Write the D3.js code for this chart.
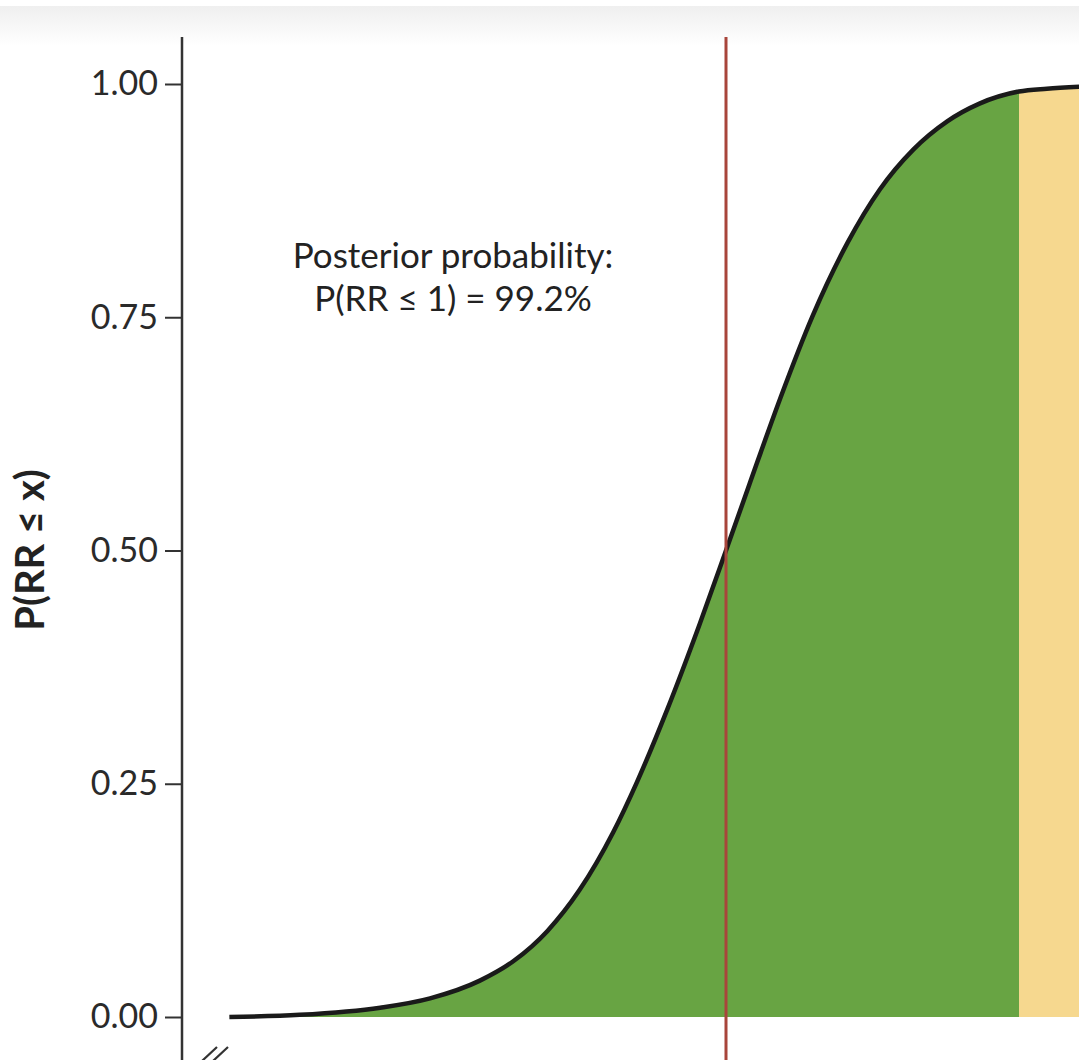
<!DOCTYPE html>
<html>
<head>
<meta charset="utf-8">
<script src="https://cdn.jsdelivr.net/npm/d3@7"></script>
<style>
  body { margin: 0; background: #fff; }
  svg { display: block; }
</style>
</head>
<body>
<svg id="chart"></svg>
<script>
// relative risk values along the curve and the posterior CDF
const rrValues  = [0.461, 0.509, 0.564, 0.598, 0.632, 0.655, 0.678, 0.700, 0.723, 0.739, 0.760, 0.782, 0.800, 0.816, 0.837, 0.859, 0.883, 0.905, 0.928, 0.951, 0.973, 1.000, 1.019, 1.041]
const cdfValues = [0.000, 0.0023, 0.010, 0.020, 0.039, 0.060, 0.092, 0.136, 0.198, 0.251, 0.330, 0.421, 0.500, 0.571, 0.663, 0.751, 0.830, 0.887, 0.930, 0.960, 0.979, 0.992, 0.995, 0.997]
const yTicks = [0, 0.25, 0.5, 0.75, 1]
const medianRR = 0.8
const thresholdRR = 1.0
const noteLines = ['Posterior probability:', 'P(RR \u2264 1) = 99.2%']
const yTitle = 'P(RR \u2264 x)'

const width = 1079
const height = 1060
const axisX = 182
const axisTop = 37

const svg = d3.select('#chart').attr('width', width).attr('height', height)

// soft grey band at the very top
const defs = svg.append('defs')
const grad = defs.append('linearGradient').attr('id', 'topband').attr('x1', 0).attr('x2', 0).attr('y1', 0).attr('y2', 1)
grad.append('stop').attr('offset', '0%').attr('stop-color', '#efefef')
grad.append('stop').attr('offset', '100%').attr('stop-color', '#ffffff')
svg.append('rect').attr('x', 0).attr('y', 6).attr('width', width).attr('height', 40).attr('fill', 'url(#topband)')

const xScale = d3.scaleLinear().domain([0.8, 1.0]).range([726, 1019])
const yScale = d3.scaleLinear().domain([0, 1]).range([1017, 84])

const points = rrValues.map((rr, i) => ({rr: rr, p: cdfValues[i]}))
const below = points.filter(d => d.rr <= thresholdRR)
const above = points.filter(d => d.rr >= thresholdRR)

const area = d3.area()
    .x(d => xScale(d.rr))
    .y0(yScale(0))
    .y1(d => yScale(d.p))
    .curve(d3.curveMonotoneX)

const line = d3.line()
    .x(d => xScale(d.rr))
    .y(d => yScale(d.p))
    .curve(d3.curveMonotoneX)

svg.append('path').datum(below).attr('d', area).attr('fill', '#68a443')
svg.append('path').datum(above).attr('d', area).attr('fill', '#f6d88f')

svg.append('path')
    .datum(points)
    .attr('d', line)
    .attr('fill', 'none')
    .attr('stroke', '#1a1a1a')
    .attr('stroke-width', 4.5)

// median line
svg.append('line')
    .attr('x1', xScale(medianRR)).attr('x2', xScale(medianRR))
    .attr('y1', axisTop).attr('y2', height)
    .attr('stroke', '#a8453b')
    .attr('stroke-width', 3)

// y axis
const yAxis = d3.axisLeft(yScale)
    .tickValues(yTicks)
    .tickFormat(d3.format('.2f'))
    .tickSize(17)
    .tickPadding(7)

const gy = svg.append('g')
    .attr('transform', 'translate(' + axisX + ',0)')
    .call(yAxis)
gy.select('.domain').remove()
gy.selectAll('.tick line').attr('stroke', '#333').attr('stroke-width', 2)
gy.selectAll('.tick text')
    .attr('fill', '#2a2a2a')
    .style('font-family', 'Lato, sans-serif')
    .style('font-size', '34px')

svg.append('line')
    .attr('x1', axisX).attr('x2', axisX)
    .attr('y1', axisTop).attr('y2', height)
    .attr('stroke', '#333')
    .attr('stroke-width', 2.5)

// axis break marks
svg.append('path')
    .attr('d', 'M202,1061 L217,1047 M213,1061 L228,1047')
    .attr('stroke', '#333')
    .attr('stroke-width', 2.2)

svg.append('text')
    .attr('transform', 'translate(44,550) rotate(-90)')
    .attr('text-anchor', 'middle')
    .attr('fill', '#222')
    .style('font-family', 'Lato, sans-serif')
    .style('font-weight', 'bold')
    .style('font-size', '40px')
    .text(yTitle)

svg.append('g')
    .selectAll('text')
    .data(noteLines)
    .enter()
    .append('text')
    .attr('x', 453)
    .attr('y', (d, i) => 268 + i * 43)
    .attr('text-anchor', 'middle')
    .attr('fill', '#222')
    .style('font-family', 'Lato, sans-serif')
    .style('font-size', '35px')
    .text(d => d)
</script>
</body>
</html>
